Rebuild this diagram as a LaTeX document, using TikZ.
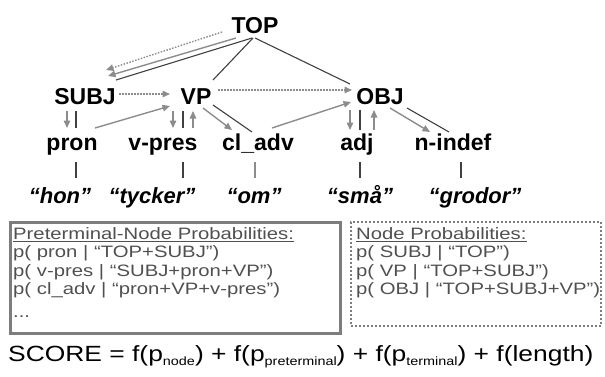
\documentclass[tikz,border=0pt]{standalone}
\usepackage{fontspec}
\setmainfont{Liberation Sans}
\newfontfamily\boxfont{Liberation Sans}[FakeStretch=1.23]
\newfontfamily\scorefont{Liberation Sans}[FakeStretch=1.2]
\usetikzlibrary{positioning, arrows.meta}
\definecolor{arrowgray}{RGB}{140,140,140}
\definecolor{boxgray}{RGB}{125,125,125}
\definecolor{txtgray}{RGB}{80,80,80}
\newcommand{\psub}[1]{\raisebox{-0.35ex}{\fontsize{12}{12}\selectfont #1}}

\begin{document}
\begin{tikzpicture}[x=1pt, y=-1pt,
  lab/.style={font=\fontsize{23}{23}\selectfont\bfseries, inner sep=0pt, anchor=base},
  word/.style={font=\fontsize{22}{22}\selectfont\bfseries\itshape, inner sep=0pt, anchor=base},
  tree/.style={draw=black!75, line width=1.1pt},
  cond/.style={draw=arrowgray, line width=1.4pt, -{Triangle[length=7.5pt,width=6.5pt]}},
  sib/.style={cond, dash pattern=on 1.5pt off 1.5pt},
  boxtxt/.style={font=\boxfont\fontsize{16.5}{18.5}\selectfont, text=txtgray, align=left, inner sep=0pt, anchor=north west}]
\useasboundingbox (0,0) rectangle (605,376);

% tree labels
\node[lab] (TOP) at (255,33) {TOP};
\node[lab] (SUBJ) at (85,104) {SUBJ};
\node[lab] (VP) at (196,104) {VP};
\node[lab] (OBJ) at (380,104) {OBJ};
\node[lab] (pron) at (72,150) {pron};
\node[lab] (vpres) at (163,150) {v-pres};
\node[lab] (cladv) at (258,150) {cl\_adv};
\node[lab] (adj) at (357,150) {adj};
\node[lab] (nindef) at (453,150) {n-indef};
\node[word] (hon) at (60,203) {“hon”};
\node[word] (tycker) at (152,203) {“tycker”};
\node[word] (om) at (254,203) {“om”};
\node[word] (sma) at (360,203) {“små”};
\node[word] (grodor) at (475,203) {“grodor”};

% tree edges
\draw[tree] ([shift={(-3,5)}]TOP.base) -- ([shift={(31,-24)}]SUBJ.base);
\draw[tree] ([shift={(-2,5)}]TOP.base) -- ([shift={(17,-24)}]VP.base);
\draw[tree] ([shift={(0,5)}]TOP.base) -- ([shift={(-30,-20)}]OBJ.base);
\draw[tree] ([shift={(-9,7)}]SUBJ.base) -- ([shift={(4,-22)}]pron.base);
\draw[tree] ([shift={(-13,7)}]VP.base) -- ([shift={(20,-22)}]vpres.base);
\draw[tree] ([shift={(17,1)}]VP.base) -- ([shift={(-6,-18)}]cladv.base);
\draw[tree] ([shift={(-20,6)}]OBJ.base) -- ([shift={(3,-20)}]adj.base);
\draw[tree] ([shift={(27,4)}]OBJ.base) -- ([shift={(-4,-18)}]nindef.base);
\draw[tree] ([shift={(4,12)}]pron.base) -- ([shift={(16,-25)}]hon.base);
\draw[tree] ([shift={(20,12)}]vpres.base) -- ([shift={(31,-25)}]tycker.base);
\draw[tree, draw=black!45] ([shift={(-3,12)}]cladv.base) -- ([shift={(1,-25)}]om.base);
\draw[tree] ([shift={(3,12)}]adj.base) -- ([shift={(0,-25)}]sma.base);
\draw[tree] ([shift={(8,12)}]nindef.base) -- ([shift={(-14,-25)}]grodor.base);

% conditioning arrows
\draw[sib] ([shift={(-33,-1)}]TOP.base) -- ([shift={(21,-34)}]SUBJ.base);
\draw[cond] ([shift={(-19,5)}]TOP.base) -- ([shift={(23,-28)}]SUBJ.base);
\draw[sib] ([shift={(34,-10)}]SUBJ.base) -- ([shift={(-26,-10)}]VP.base);
\draw[sib] ([shift={(22,-14)}]VP.base) -- ([shift={(-28,-14)}]OBJ.base);
\draw[cond] ([shift={(-18,7)}]SUBJ.base) -- ([shift={(-5,-22)}]pron.base);
\draw[cond] ([shift={(23,-22)}]pron.base) -- ([shift={(-26,2)}]VP.base);
\draw[cond] ([shift={(-23,7)}]VP.base) -- ([shift={(10,-22)}]vpres.base);
\draw[cond] ([shift={(30,-22)}]vpres.base) -- ([shift={(-3,7)}]VP.base);
\draw[cond] ([shift={(7,4)}]VP.base) -- ([shift={(-26,-20)}]cladv.base);
\draw[cond] ([shift={(14,-22)}]cladv.base) -- ([shift={(-29,-2)}]OBJ.base);
\draw[cond] ([shift={(-30,6)}]OBJ.base) -- ([shift={(-7,-20)}]adj.base);
\draw[cond] ([shift={(17,-20)}]adj.base) -- ([shift={(-6,6)}]OBJ.base);
\draw[cond] ([shift={(10,4)}]OBJ.base) -- ([shift={(-23,-18)}]nindef.base);

% probability boxes
\node[draw=boxgray, line width=2.5pt, minimum width=330pt, minimum height=111pt, inner sep=0pt, anchor=north west] (prebox) at (9,221) {};
\node[draw=boxgray, line width=2pt, dash pattern=on 2pt off 2pt, minimum width=250pt, minimum height=104pt, inner sep=0pt, anchor=north west] (nodebox) at (350,221) {};
\node[boxtxt] (pretxt) at ([shift={(4,6)}]prebox.north west) {\underline{Preterminal-Node Probabilities:}\\
p( pron | “TOP+SUBJ”)\\
p( v-pres | “SUBJ+pron+VP”)\\
p( cl\_adv | “pron+VP+v-pres”)\\[4pt]
...};
\node[boxtxt] (nodetxt) at ([shift={(6,6)}]nodebox.north west) {\underline{Node Probabilities:}\\
p( SUBJ | “TOP”)\\
p( VP | “TOP+SUBJ”)\\
p( OBJ | “TOP+SUBJ+VP”)};

% score
\node[font=\scorefont\fontsize{22}{22}\selectfont, inner sep=0pt, anchor=base west] (score) at (8,361)
  {SCORE = f(p\psub{node}) + f(p\psub{preterminal}) + f(p\psub{terminal}) + f(length)};
\end{tikzpicture}
\end{document}
